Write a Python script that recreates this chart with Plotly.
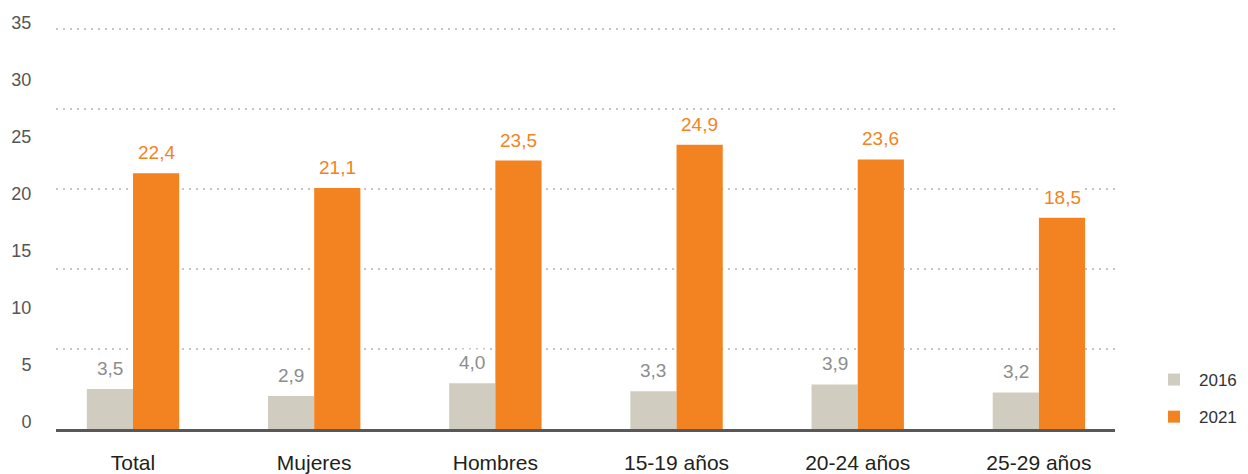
import plotly.graph_objects as go

categories = ["Total", "Mujeres", "Hombres", "15-19 años", "20-24 años", "25-29 años"]
values_2016 = [3.5, 2.9, 4.0, 3.3, 3.9, 3.2]
values_2021 = [22.4, 21.1, 23.5, 24.9, 23.6, 18.5]
series_names = ["2016", "2021"]
y_tick_values = [0, 5, 10, 15, 20, 25, 30, 35]
grid_values = [7, 14, 21, 28, 35]

GRAY = "#d0cdc0"
ORANGE = "#f38321"
FONT = "Liberation Sans, Arial, sans-serif"

# page body has an 8px margin, so the figure is sized/offset accordingly
W, H = 1240, 466
ML, MR, MT, MB = 48, 133, 19, 45
plot_w = W - ML - MR
plot_h = H - MT - MB
y_range = [0, 35.2]
x_range = [-0.425, 5.42]
px_per_cat = plot_w / (x_range[1] - x_range[0])
bargap = 0.49
bar_w_px = (1 - bargap) / 2 * px_per_cat

fig = go.Figure()
# invisible helper so the grid axis (y) is rendered beneath the bars
fig.add_trace(go.Scatter(
    x=[categories[0]], y=[0], mode="markers", marker=dict(opacity=0),
    showlegend=False, hoverinfo="skip", xaxis="x", yaxis="y",
))
for name, vals, col in [(series_names[0], values_2016, GRAY), (series_names[1], values_2021, ORANGE)]:
    fig.add_trace(go.Bar(
        x=categories, y=vals, name=name, legendgroup=name,
        marker=dict(color=col, line=dict(width=0)),
        xaxis="x", yaxis="y2", hoverinfo="skip",
    ))

def fmt(v):
    return f"{v:.1f}".replace(".", ",")

annotations = []
for i, cat in enumerate(categories):
    for vals, col, sh in [(values_2016, "#8d8d8d", -bar_w_px / 2), (values_2021, ORANGE, bar_w_px / 2)]:
        annotations.append(dict(
            x=cat, y=vals[i], xref="x", yref="y2", text=fmt(vals[i]), showarrow=False,
            xanchor="center", yanchor="bottom", xshift=sh, yshift=7,
            font=dict(family=FONT, size=19, color=col), bgcolor="white", borderpad=2,
        ))

fig.update_layout(
    width=W, height=H,
    margin=dict(l=ML, r=MR, t=MT, b=MB, autoexpand=False),
    paper_bgcolor="white", plot_bgcolor="white",
    barmode="group", bargap=bargap, bargroupgap=0,
    font=dict(family=FONT),
    showlegend=True,
    legend=dict(
        x=(1141 - ML) / plot_w, xanchor="left",
        y=(H - MB - 354) / plot_h, yanchor="top",
        font=dict(family=FONT, size=17, color="#333333"),
        bgcolor="rgba(0,0,0,0)", itemwidth=40, tracegroupgap=12,
    ),
    xaxis=dict(
        range=x_range, type="category", showgrid=False, zeroline=False,
        showline=True, linecolor="#58585a", linewidth=3,
        ticks="outside", ticklen=13, tickcolor="rgba(0,0,0,0)",
        tickfont=dict(family=FONT, size=21, color="#231f20"),
        automargin=False,
    ),
    yaxis=dict(
        range=y_range, tickvals=grid_values, showticklabels=False,
        showgrid=True, gridcolor="#c6c6c6", gridwidth=1.5, griddash="2px,5px",
        zeroline=False, showline=False, ticks="", automargin=False,
    ),
    yaxis2=dict(
        range=y_range, overlaying="y", side="left", tickvals=y_tick_values,
        showgrid=False, zeroline=False, showline=False,
        ticks="outside", ticklen=20, tickcolor="rgba(0,0,0,0)",
        ticklabelshift=-7, automargin=False,
        tickfont=dict(family=FONT, size=18, color="#555555"),
    ),
    annotations=annotations,
)

fig.write_html("out.html")
